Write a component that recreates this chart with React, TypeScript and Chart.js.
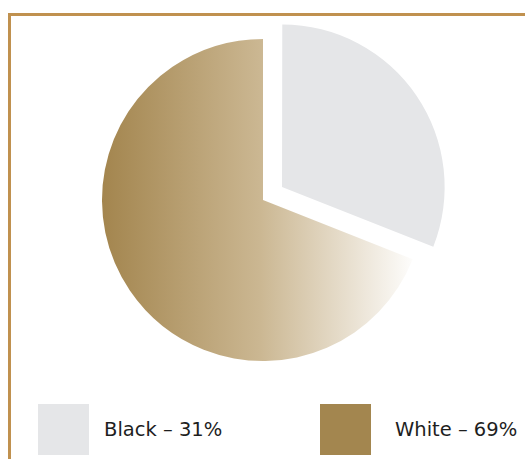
import React, { useEffect, useRef } from "react";
import { Chart, registerables } from "chart.js";

Chart.register(...registerables);

const categories = ["Black", "White"];
const values = [31, 69];
const legendLabels = ["Black – 31%", "White – 69%"];
const legendColors = ["#e5e6e8", "#a3864f"];

export default function App() {
  const ref = useRef<HTMLCanvasElement | null>(null);

  useEffect(() => {
    if (!ref.current) return;
    const chart = new Chart(ref.current, {
      type: "pie",
      data: {
        labels: categories,
        datasets: [
          {
            data: values,
            borderWidth: 0,
            offset: [92, 0],
            radius: 161,
            backgroundColor: (ctx: any) => {
              if (ctx.dataIndex === 0) return "#e5e6e8";
              const c = ctx.chart;
              const area = c.chartArea;
              if (!area) return "#a3864f";
              const cx = (area.left + area.right) / 2;
              const g = c.ctx.createLinearGradient(cx - 161, 0, cx + 155, 0);
              g.addColorStop(0, "#a3854e");
              g.addColorStop(0.5, "#cbb792");
              g.addColorStop(1, "#ffffff");
              return g;
            },
          } as any,
        ],
      },
      options: {
        animation: false,
        responsive: false,
        maintainAspectRatio: false,
        layout: { padding: { left: 1, right: 0, top: 0, bottom: 0 } },
        plugins: { legend: { display: false }, tooltip: { enabled: false } },
      },
    });
    return () => chart.destroy();
  }, []);

  return (
    <div
      style={{
        position: "fixed",
        left: 0,
        top: 0,
        width: 525,
        height: 459,
        overflow: "hidden",
        background: "#fff",
        fontFamily: "'DejaVu Sans', sans-serif",
      }}
    >
      <div
        style={{
          position: "absolute",
          left: 8,
          top: 13,
          width: 600,
          height: 600,
          borderTop: "3px solid #c0914f",
          borderLeft: "3px solid #c0914f",
          boxSizing: "border-box",
        }}
      />
      <canvas
        ref={ref}
        width={525}
        height={400}
        style={{ position: "absolute", left: 0, top: 0, width: 525, height: 400 }}
      />
      {legendLabels.map((l, i) => (
        <div
          key={l}
          style={{
            position: "absolute",
            left: i === 0 ? 38 : 320,
            top: 404,
            display: "flex",
            alignItems: "center",
          }}
        >
          <div style={{ width: 51, height: 51, background: legendColors[i] }} />
          <span style={{ marginLeft: i === 0 ? 15 : 24, fontSize: 19.5, color: "#1e1e1e" }}>{l}</span>
        </div>
      ))}
    </div>
  );
}
